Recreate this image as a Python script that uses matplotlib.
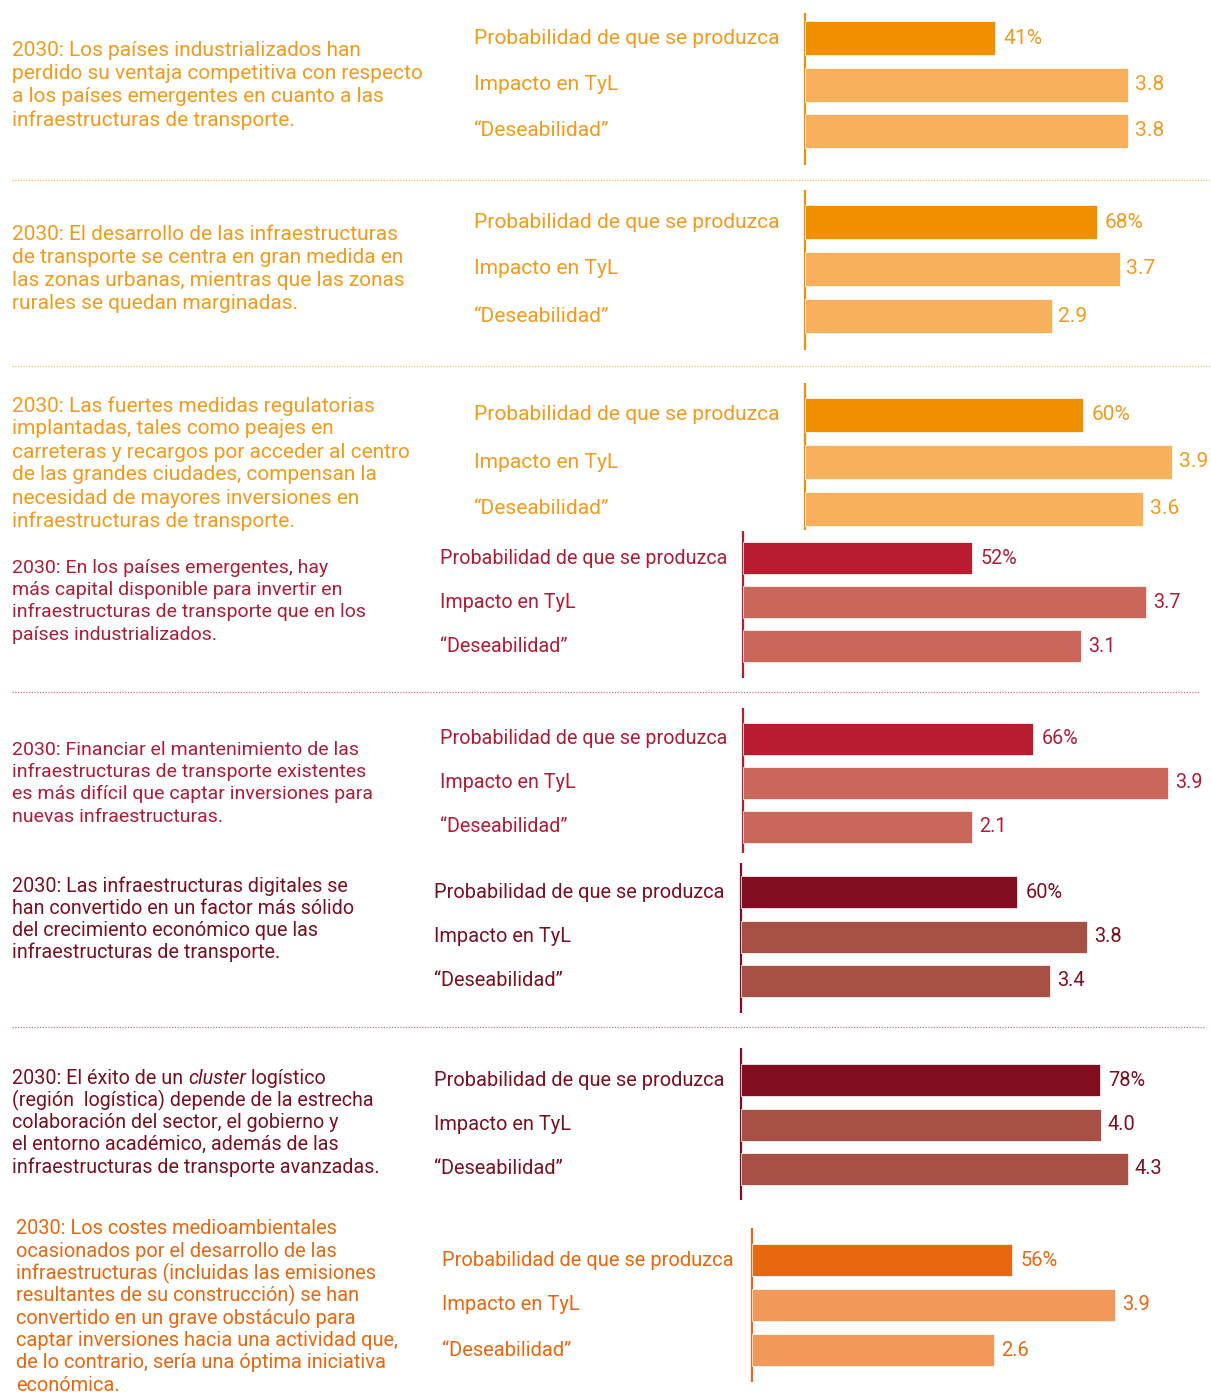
import matplotlib.pyplot as plt

plt.rcParams['font.family'] = ['Roboto', 'DejaVu Sans']

W, H = 1211, 1392

# --- datos de cada escenario ---
escenarios = [
    "2030: Los países industrializados han\nperdido su ventaja competitiva con respecto\na los países emergentes en cuanto a las\ninfraestructuras de transporte.",
    "2030: El desarrollo de las infraestructuras\nde transporte se centra en gran medida en\nlas zonas urbanas, mientras que las zonas\nrurales se quedan marginadas.",
    "2030: Las fuertes medidas regulatorias\nimplantadas, tales como peajes en\ncarreteras y recargos por acceder al centro\nde las grandes ciudades, compensan la\nnecesidad de mayores inversiones en\ninfraestructuras de transporte.",
    "2030: En los países emergentes, hay\nmás capital disponible para invertir en\ninfraestructuras de transporte que en los\npaíses industrializados.",
    "2030: Financiar el mantenimiento de las\ninfraestructuras de transporte existentes\nes más difícil que captar inversiones para\nnuevas infraestructuras.",
    "2030: Las infraestructuras digitales se\nhan convertido en un factor más sólido\ndel crecimiento económico que las\ninfraestructuras de transporte.",
    "2030: El éxito de un _cluster_ logístico\n(región  logística) depende de la estrecha\ncolaboración del sector, el gobierno y\nel entorno académico, además de las\ninfraestructuras de transporte avanzadas.",
    "2030: Los costes medioambientales\nocasionados por el desarrollo de las\ninfraestructuras (incluidas las emisiones\nresultantes de su construcción) se han\nconvertido en un grave obstáculo para\ncaptar inversiones hacia una actividad que,\nde lo contrario, sería una óptima iniciativa\neconómica.",
]
filas = ['Probabilidad de que se produzca', 'Impacto en TyL', '“Deseabilidad”']
probabilidad = [41, 68, 60, 52, 66, 60, 78, 56]      # %
impacto = [3.8, 3.7, 3.9, 3.7, 3.9, 3.8, 4.0, 3.9]
deseabilidad = [3.8, 2.9, 3.6, 3.1, 2.1, 3.4, 4.3, 2.6]

# colores: (texto, barra probabilidad, barras impacto/deseabilidad)
paletas = {
    'naranja': ('#F29A1C', '#F09000', '#F7B15C'),
    'rojo': ('#B01C36', '#B81C2F', '#CB665A'),
    'granate': ('#7A1020', '#820D20', '#A65046'),
    'mandarina': ('#E8670F', '#E8680F', '#F29858'),
}
bloque_paleta = ['naranja', 'naranja', 'naranja', 'rojo', 'rojo', 'granate', 'granate', 'mandarina']

# maquetacion en pixeles: texto x, primera linea y, paso linea, etiquetas x,
# eje x, eje arriba, eje abajo, primera barra y, paso barras, alto barra,
# px por 100 %, px por punto, fuente texto, fuente etiquetas
maqueta = [
    (12, 50, 23.3, 474, 805, 13, 165, 38, 46.5, 34, 463, 85, 15.05, 15.15),
    (12, 234, 23.3, 474, 805, 190, 350, 222, 47, 34, 429, 85, 15.05, 15.15),
    (12, 406, 23.0, 474, 805, 383, 530, 415, 47, 34, 463, 94, 15.05, 15.15),
    (12, 568, 22.2, 440, 743, 531, 678, 558, 44, 32, 440, 109, 14.0, 14.2),
    (12, 750, 22.2, 440, 743, 708, 853, 739, 44, 32, 440, 109, 14.0, 14.2),
    (12, 886, 22.2, 434, 741, 863, 1013, 892, 44.5, 32, 460, 91, 14.2, 14.4),
    (12, 1078, 22.2, 434, 741, 1048, 1200, 1080, 44.5, 32, 460, 90, 14.2, 14.4),
    (16, 1229, 22.3, 442, 752, 1228, 1382, 1260, 45, 32, 464, 93, 14.4, 14.5),
]
separadores = [(180, 1210, '#F5B860'), (366, 1210, '#F5B860'),
               (692, 1200, '#D4707E'), (1027, 1205, '#D4707E')]

fig = plt.figure(figsize=(W / 100, H / 100), dpi=100)
base = fig.add_axes([0, 0, 1, 1])
base.set_xlim(0, W)
base.set_ylim(H, 0)
base.axis('off')
renderer = fig.canvas.get_renderer()


def linea_mixta(x, y, linea, color, fs):
    # los tramos entre '_' van en cursiva
    partes = linea.split('_')
    for k, parte in enumerate(partes):
        if not parte:
            continue
        t = base.text(x, y, parte, color=color, fontsize=fs, va='center', ha='left',
                      style='italic' if k % 2 else 'normal')
        bb = t.get_window_extent(renderer)
        x += bb.width


for i, texto in enumerate(escenarios):
    tx, ty, tstep, lx, ax_x, a_top, a_bot, b0, bstep, bh, pct_px, pt_px, fs, fl = maqueta[i]
    c_txt, c_prob, c_val = paletas[bloque_paleta[i]]

    for j, linea in enumerate(texto.split('\n')):
        linea_mixta(tx, ty + j * tstep, linea, c_txt, fs)

    ys = [b0 + j * bstep for j in range(3)]
    for j, fila in enumerate(filas):
        base.text(lx, ys[j], fila, color=c_txt, fontsize=fl, va='center', ha='left')

    # ejes de barras: uno en puntos y otro gemelo en porcentaje
    ancho = W - ax_x
    rect = [ax_x / W, 1 - a_bot / H, ancho / W, (a_bot - a_top) / H]
    ax = fig.add_axes(rect)
    ax.set_xlim(0, ancho / pt_px)
    ax.set_ylim(a_bot, a_top)
    axp = ax.twiny()
    axp.set_xlim(0, 100 * ancho / pct_px)
    axp.set_ylim(a_bot, a_top)
    for a in (ax, axp):
        a.axis('off')
        a.patch.set_alpha(0)

    axp.barh(ys[0], probabilidad[i], height=bh, color=c_prob, edgecolor='white', linewidth=0.5)
    axp.annotate(f"{probabilidad[i]}%", (probabilidad[i], ys[0]), xytext=(6, 0),
                 textcoords='offset points', va='center', ha='left', color=c_txt, fontsize=fl)
    for j, v in ((1, impacto[i]), (2, deseabilidad[i])):
        ax.barh(ys[j], v, height=bh, color=c_val, edgecolor='white', linewidth=0.5)
        ax.annotate(f"{v:.1f}", (v, ys[j]), xytext=(5, 0), textcoords='offset points',
                    va='center', ha='left', color=c_txt, fontsize=fl)

    base.plot([ax_x, ax_x], [a_top, a_bot], color=c_prob, lw=1.6, solid_capstyle='butt')

for y, x1, col in separadores:
    base.plot([12, x1], [y, y], color=col, lw=0.9, linestyle=(0, (1, 1.2)))

fig.savefig('out.png', dpi=100)
